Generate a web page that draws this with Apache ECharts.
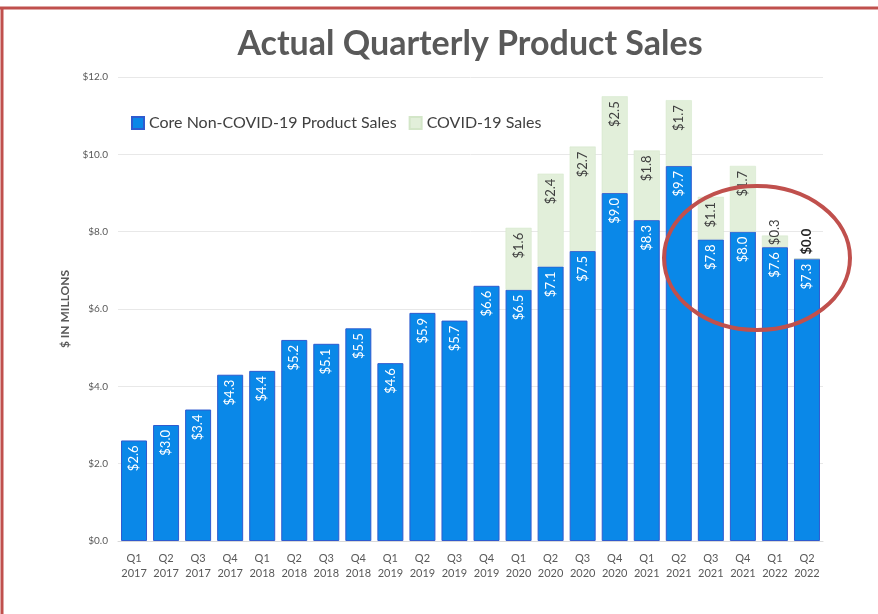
<!DOCTYPE html>
<html><head><meta charset="utf-8">
<script src="https://cdn.jsdelivr.net/npm/echarts@6/dist/echarts.min.js"></script>
<style>html,body{margin:0;padding:0;background:#fff}#c{width:878px;height:614px}</style>
</head><body><div id="c"></div>
<script>
const categories = ['Q1\n2017','Q2\n2017','Q3\n2017','Q4\n2017','Q1\n2018','Q2\n2018','Q3\n2018','Q4\n2018','Q1\n2019','Q2\n2019','Q3\n2019','Q4\n2019','Q1\n2020','Q2\n2020','Q3\n2020','Q4\n2020','Q1\n2021','Q2\n2021','Q3\n2021','Q4\n2021','Q1\n2022','Q2\n2022'];
const coreSales = [2.6,3.0,3.4,4.3,4.4,5.2,5.1,5.5,4.6,5.9,5.7,6.6,6.5,7.1,7.5,9.0,8.3,9.7,7.8,8.0,7.6,7.3];
const covidSales = [null,null,null,null,null,null,null,null,null,null,null,null,1.6,2.4,2.7,2.5,1.8,1.7,1.1,1.7,0.3,0.0];
const yTicks = [0,2,4,6,8,10,12];

const FONT = 'Lato, "Open Sans", sans-serif';
const fmt = v => '$' + Number(v).toFixed(1);

const covidData = covidSales.map(v => {
  if (v === null) return null;
  if (v === 0) return {value: v, label: {position: 'top', align: 'left', color: '#262626', fontWeight: 'bold', distance: 4}};
  if (v < 0.5) return {value: v, label: {position: 'insideBottom', align: 'left', distance: 2}};
  return v;
});

const chart = echarts.init(document.getElementById('c'), null, {renderer: 'canvas'});
chart.setOption({
  animation: false,
  title: {
    text: 'Actual Quarterly Product Sales',
    left: 465, top: 22, textAlign: 'center',
    textStyle: {fontFamily: FONT, fontSize: 34, fontWeight: 'bold', color: '#595959'}
  },
  legend: {
    left: 126, top: 110, itemWidth: 12, itemHeight: 12, itemGap: 12,
    icon: 'rect',
    textStyle: {fontFamily: FONT, fontSize: 16, color: '#404040'},
    data: ['Core Non-COVID-19 Product Sales', 'COVID-19 Sales']
  },
  grid: {left: 118, right: 55, top: 77, bottom: 73, containLabel: false},
  xAxis: {
    type: 'category', data: categories,
    axisLine: {lineStyle: {color: '#d9d9d9'}},
    axisTick: {show: false},
    axisLabel: {interval: 0, fontFamily: FONT, fontSize: 11, color: '#595959', lineHeight: 15, margin: 10}
  },
  yAxis: {
    type: 'value', min: 0, max: 12, interval: 2,
    name: '$ IN MILLONS', nameLocation: 'middle', nameGap: 44, nameRotate: 90,
    nameTextStyle: {fontFamily: FONT, fontSize: 12, fontWeight: 'bold', color: '#595959'},
    axisLine: {show: false}, axisTick: {show: false},
    splitLine: {lineStyle: {color: '#e8e8e8'}},
    axisLabel: {fontFamily: FONT, fontSize: 10, color: '#595959', margin: 10, formatter: v => fmt(v)}
  },
  series: [
    {
      name: 'Core Non-COVID-19 Product Sales', type: 'bar', stack: 's', barWidth: 26,
      data: coreSales,
      itemStyle: {color: '#0a88e8', borderColor: '#2f5bcf', borderWidth: 1},
      label: {show: true, position: 'insideTop', rotate: 90, align: 'right', verticalAlign: 'middle',
        distance: 5, color: '#ffffff', fontFamily: FONT, fontSize: 13, formatter: p => fmt(p.value)}
    },
    {
      name: 'COVID-19 Sales', type: 'bar', stack: 's', barWidth: 26,
      data: covidData,
      itemStyle: {color: '#e2efda', borderColor: '#d3e6c8', borderWidth: 0.5},
      label: {show: true, position: 'insideTop', rotate: 90, align: 'right', verticalAlign: 'middle',
        distance: 5, color: '#404040', fontFamily: FONT, fontSize: 13, formatter: p => fmt(p.value)}
    }
  ],
  graphic: [
    {type: 'line', shape: {x1: 0, y1: 8, x2: 878, y2: 8}, style: {stroke: '#c0504d', lineWidth: 3}},
    {type: 'line', shape: {x1: 2, y1: 7, x2: 2, y2: 614}, style: {stroke: '#c0504d', lineWidth: 3}},
    {type: 'ellipse', shape: {cx: 757, cy: 258, rx: 93, ry: 72}, style: {fill: 'none', stroke: '#c0504d', lineWidth: 4}, z: 100}
  ]
});
</script></body></html>
